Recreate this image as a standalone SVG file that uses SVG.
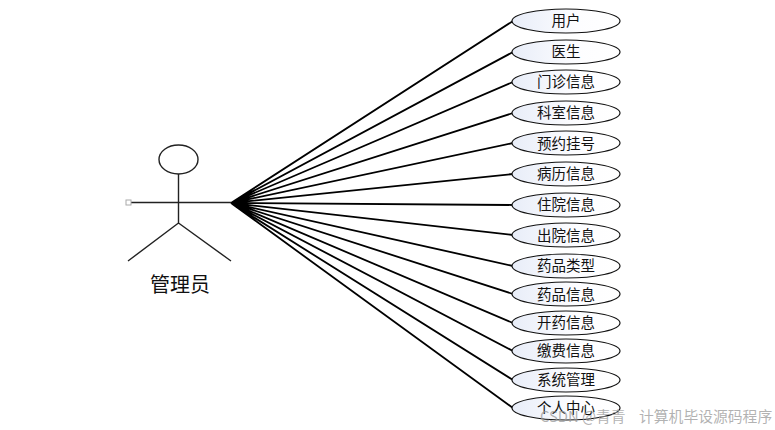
<svg xmlns="http://www.w3.org/2000/svg" width="775" height="430" viewBox="0 0 775 430">
<style>
.a{fill:none;stroke:#222;stroke-width:1.4}
.c{fill:none;stroke:#000;stroke-width:1.8}
.u{fill:url(#g);stroke:#111;stroke-width:1.2}
text{font-family:"Noto Sans CJK SC","Liberation Sans",sans-serif;fill:#111;text-anchor:middle}
.l{font-size:14.500px}
.w{font-size:14.800px;fill:#999;fill-opacity:.75;text-anchor:start}
</style>
<defs><linearGradient id="g" x1="0" x2="1" y1="0" y2="0"><stop offset="0" stop-color="#e8edf8"/><stop offset=".6" stop-color="#fdfdff"/><stop offset="1" stop-color="#fff"/></linearGradient></defs>
<rect width="775" height="430" fill="#fff"/>
<g id="connectors">
<path class="c" d="M231 203L513 21M231 203L513 52M231 203L513 82M231 203L513 113M231 203L513 143M231 203L513 174M231 203L513 205M231 203L513 235M231 203L513 266M231 203L513 294M231 203L513 323M231 203L513 351M231 203L513 380M231 203L513 408"/>
</g>
<g id="actor">
<ellipse class="a" cx="178.500" cy="159.500" rx="19.500" ry="14.500"/>
<path class="a" d="M178.500 174V223M131 202.500H231M178.500 223L128 261M178.500 223L231 261"/>
<rect x="126" y="200" width="5" height="5" fill="#fff" stroke="#aaa"/>
<text x="180" y="292" font-size="20">管理员</text>
</g>
<g id="n1"><ellipse class="u" cx="566" cy="21" rx="54" ry="12"/><text class="l" x="566" y="25.500">用户</text></g>
<g id="n2"><ellipse class="u" cx="566" cy="52" rx="54" ry="12"/><text class="l" x="566" y="56.500">医生</text></g>
<g id="n3"><ellipse class="u" cx="566" cy="82" rx="54" ry="12"/><text class="l" x="566" y="86.500">门诊信息</text></g>
<g id="n4"><ellipse class="u" cx="566" cy="113" rx="54" ry="12"/><text class="l" x="566" y="117.500">科室信息</text></g>
<g id="n5"><ellipse class="u" cx="566" cy="143" rx="54" ry="12"/><text class="l" x="566" y="148.500">预约挂号</text></g>
<g id="n6"><ellipse class="u" cx="566" cy="174" rx="54" ry="12"/><text class="l" x="566" y="178.500">病历信息</text></g>
<g id="n7"><ellipse class="u" cx="566" cy="205" rx="54" ry="12"/><text class="l" x="566" y="209.500">住院信息</text></g>
<g id="n8"><ellipse class="u" cx="566" cy="235" rx="54" ry="12"/><text class="l" x="566" y="240.500">出院信息</text></g>
<g id="n9"><ellipse class="u" cx="566" cy="266" rx="54" ry="12"/><text class="l" x="566" y="270.500">药品类型</text></g>
<g id="n10"><ellipse class="u" cx="566" cy="294" rx="54" ry="12"/><text class="l" x="566" y="299.500">药品信息</text></g>
<g id="n11"><ellipse class="u" cx="566" cy="323" rx="54" ry="12"/><text class="l" x="566" y="327.500">开药信息</text></g>
<g id="n12"><ellipse class="u" cx="566" cy="351" rx="54" ry="12"/><text class="l" x="566" y="355.500">缴费信息</text></g>
<g id="n13"><ellipse class="u" cx="566" cy="380" rx="54" ry="12"/><text class="l" x="566" y="384.500">系统管理</text></g>
<g id="n14"><ellipse class="u" cx="566" cy="408" rx="54" ry="12"/><text class="l" x="566" y="412.500">个人中心</text></g>
<text class="w" x="540" y="422">CSDN @青青</text>
<text class="w" x="639" y="422">计算机毕设源码程序</text>
</svg>
